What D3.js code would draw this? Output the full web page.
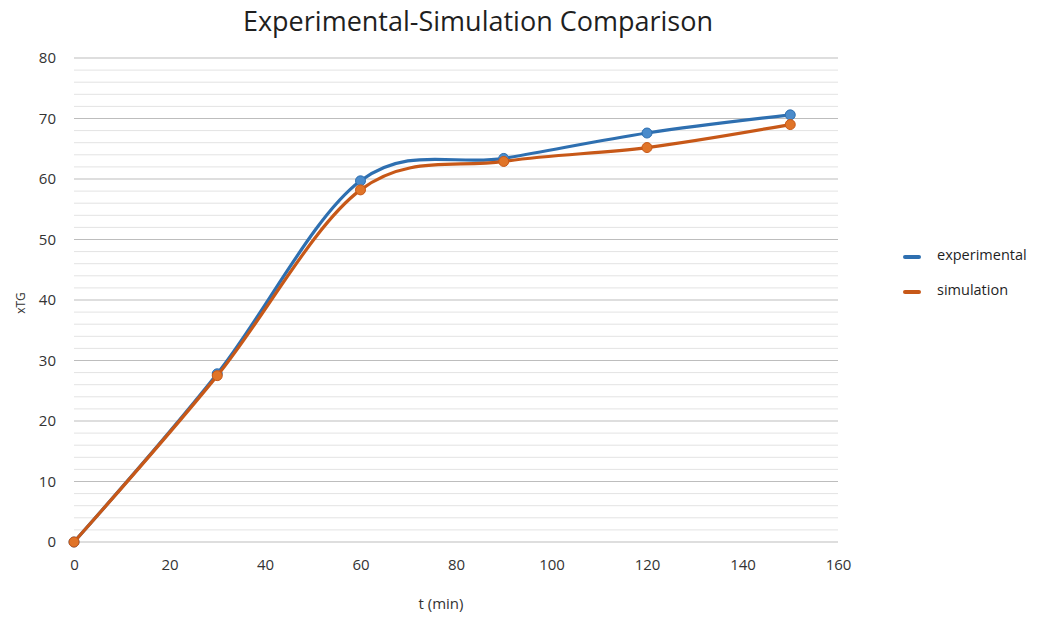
<!DOCTYPE html>
<html>
<head>
<meta charset="utf-8">
<script src="https://cdn.jsdelivr.net/npm/d3@7"></script>
<style>
  html, body { margin: 0; padding: 0; background: #fff; }
  svg { display: block; font-family: "Open Sans", "Noto Sans", sans-serif; }
</style>
</head>
<body>
<svg id="chart" width="1040" height="618"></svg>
<script>
// Sampling times (min)
const times = [0, 30, 60, 90, 120, 150];
// Measured and simulated xTG values
const experimental = [0, 27.8, 59.7, 63.4, 67.6, 70.6];
const simulation = [0, 27.5, 58.2, 62.9, 65.2, 69.0];
const seriesNames = ["experimental", "simulation"];
const xTicks = [0, 20, 40, 60, 80, 100, 120, 140, 160];
const yTicks = [0, 10, 20, 30, 40, 50, 60, 70, 80];

const svg = d3.select("#chart");
const margin = { left: 74, right: 202, top: 58, bottom: 76 };
const W = 1040, H = 618;

const x = d3.scaleLinear().domain([0, 160]).range([margin.left, W - margin.right]);
const y = d3.scaleLinear().domain([0, 80]).range([H - margin.bottom, margin.top]);

// Minor gridlines every 2 units
svg.append("g")
  .selectAll("line")
  .data(d3.range(0, 81, 2).filter(v => v % 10 !== 0))
  .join("line")
  .attr("x1", x(0)).attr("x2", x(160))
  .attr("y1", d => y(d)).attr("y2", d => y(d))
  .attr("stroke", "#e3e3e3").attr("stroke-width", 1);

// Major gridlines
svg.append("g")
  .selectAll("line")
  .data(yTicks)
  .join("line")
  .attr("x1", x(0)).attr("x2", x(160))
  .attr("y1", d => y(d)).attr("y2", d => y(d))
  .attr("stroke", "#bdbdbd").attr("stroke-width", 1.2);

// Y axis labels
const yAxis = svg.append("g")
  .attr("transform", `translate(${x(0) - 18},0)`)
  .call(d3.axisLeft(y).tickValues(yTicks).tickSize(0).tickPadding(0));
yAxis.select(".domain").remove();
yAxis.selectAll("text")
  .attr("font-size", 15).attr("fill", "#333")
  .attr("font-family", "'Open Sans', 'Noto Sans', sans-serif");

// X axis labels
const xAxis = svg.append("g")
  .attr("transform", `translate(0,${y(0) + 17})`)
  .call(d3.axisBottom(x).tickValues(xTicks).tickSize(0).tickPadding(0));
xAxis.select(".domain").remove();
xAxis.selectAll("text")
  .attr("font-size", 15).attr("fill", "#333")
  .attr("font-family", "'Open Sans', 'Noto Sans', sans-serif");

// Title
svg.append("text")
  .attr("x", 478).attr("y", 31)
  .attr("text-anchor", "middle")
  .attr("font-size", 27).attr("fill", "#1f1f1f")
  .text("Experimental-Simulation Comparison");

// Axis titles
svg.append("text")
  .attr("x", 441).attr("y", 609)
  .attr("text-anchor", "middle")
  .attr("font-size", 15).attr("fill", "#333")
  .text("t (min)");

svg.append("text")
  .attr("transform", `translate(25,${y(39.5)}) rotate(-90)`)
  .attr("text-anchor", "middle")
  .attr("font-size", 12).attr("fill", "#333")
  .text("xTG");

// Series
const lineColors = ["#2e6fb0", "#c75818"];
const markerColors = ["#4a8bcb", "#e07428"];
const data = [experimental, simulation];

const line = d3.line()
  .x((d, i) => x(times[i]))
  .y(d => y(d))
  .curve(d3.curveCardinal.tension(0));

data.forEach((vals, s) => {
  const g = svg.append("g");
  g.append("path")
    .datum(vals)
    .attr("d", line)
    .attr("fill", "none")
    .attr("stroke", lineColors[s])
    .attr("stroke-width", 3.2)
    .attr("stroke-linejoin", "round");
  g.selectAll("circle")
    .data(vals)
    .join("circle")
    .attr("cx", (d, i) => x(times[i]))
    .attr("cy", d => y(d))
    .attr("r", 5)
    .attr("fill", markerColors[s])
    .attr("stroke", lineColors[s])
    .attr("stroke-width", 1);
});

// Legend
const legend = svg.append("g");
seriesNames.forEach((name, s) => {
  const ly = 257 + s * 35;
  legend.append("line")
    .attr("x1", 905).attr("x2", 919)
    .attr("y1", ly).attr("y2", ly)
    .attr("stroke", lineColors[s]).attr("stroke-width", 4)
    .attr("stroke-linecap", "round");
  legend.append("text")
    .attr("x", 937).attr("y", ly + 2)
    .attr("dy", "0.1em")
    .attr("font-size", 14.5).attr("font-weight", 500).attr("fill", "#1f1f1f")
    .text(name);
});
</script>
</body>
</html>
